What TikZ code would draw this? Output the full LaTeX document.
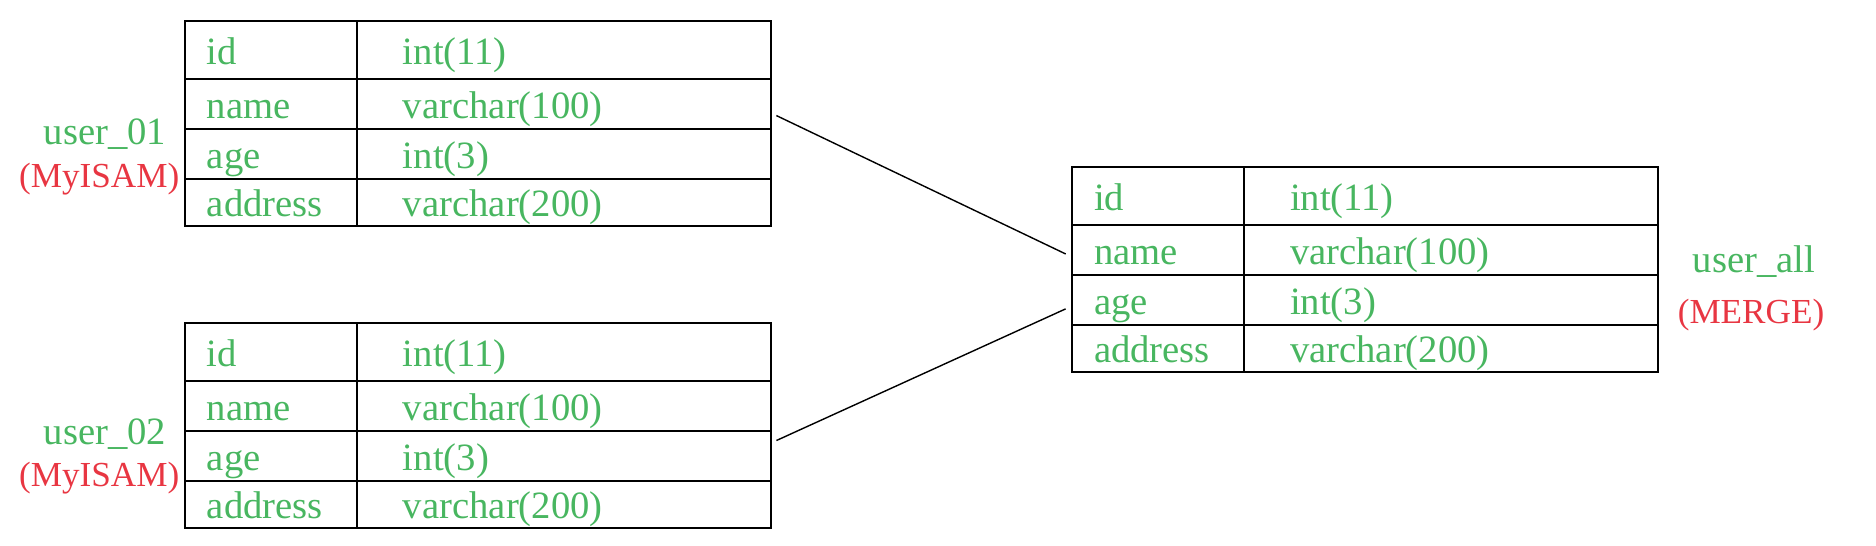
\documentclass[tikz,border=0pt]{standalone}
\usepackage{fontspec}
\setmainfont{Liberation Serif}
\usetikzlibrary{positioning}
\definecolor{fieldgreen}{RGB}{72,182,96}
\definecolor{enginered}{RGB}{232,54,66}

\begin{document}
\begin{tikzpicture}[x=0.1mm,y=-0.1mm,node distance=0pt,
                    cell/.style={draw,line width=0.7pt,outer sep=0pt,inner ysep=0pt,
                      align=left,text height=3.2mm,text depth=0.3mm,
                      text=fieldgreen,font=\fontsize{11}{13}\selectfont},
                    fieldcell/.style={cell,inner xsep=2.2mm,text width=12.8mm},
                    typecell/.style={cell,inner xsep=4.6mm,text width=32.2mm},
                    tablename/.style={text=fieldgreen,inner xsep=0pt,font=\fontsize{11}{13}\selectfont},
                    engine/.style={tablename,text=enginered,font=\fontsize{10}{12}\selectfont}]
  \useasboundingbox (0,0) rectangle (1876,546);

  % the three tables, same columns each
  \foreach \t/\x/\y in {one/185/21, two/185/323, all/1072/167} {
    \node[fieldcell,minimum height=5.8mm,anchor=north west] (\t-id) at (\x,\y) {id};
    \node[typecell,minimum height=5.8mm,right=of \t-id]     (\t-idt)   {int(11)};
    \node[fieldcell,minimum height=5mm,below=of \t-id]      (\t-name)  {name};
    \node[typecell,minimum height=5mm,right=of \t-name]     (\t-namet) {varchar(100)};
    \node[fieldcell,minimum height=5mm,below=of \t-name]    (\t-age)   {age};
    \node[typecell,minimum height=5mm,right=of \t-age]      (\t-aget)  {int(3)};
    \node[fieldcell,minimum height=4.7mm,below=of \t-age]   (\t-addr)  {address};
    \node[typecell,minimum height=4.7mm,right=of \t-addr]   (\t-addrt) {varchar(200)};
  }

  \node[tablename,anchor=east] (oneName) at (167,134) {user\_01};
  \node[engine,anchor=east]    (oneEng)  at (180,179) {(MyISAM)};
  \node[tablename,anchor=east] (twoName) at (167,434) {user\_02};
  \node[engine,anchor=east]    (twoEng)  at (180,478) {(MyISAM)};
  \node[tablename] (allName) at (1754,262) {user\_all};
  \node[engine]    (allEng)  at (1751,315) {(MERGE)};

  \draw[line width=0.4pt,shorten <=0.6mm,shorten >=0.7mm]
        ([yshift=-0.9mm]one-namet.east) -- ([yshift=-0.7mm]all-name.west);
  \draw[line width=0.4pt,shorten <=0.6mm,shorten >=0.7mm]
        ([yshift=1.3mm]two-aget.east) -- ([yshift=-0.6mm]all-age.west);
\end{tikzpicture}
\end{document}
